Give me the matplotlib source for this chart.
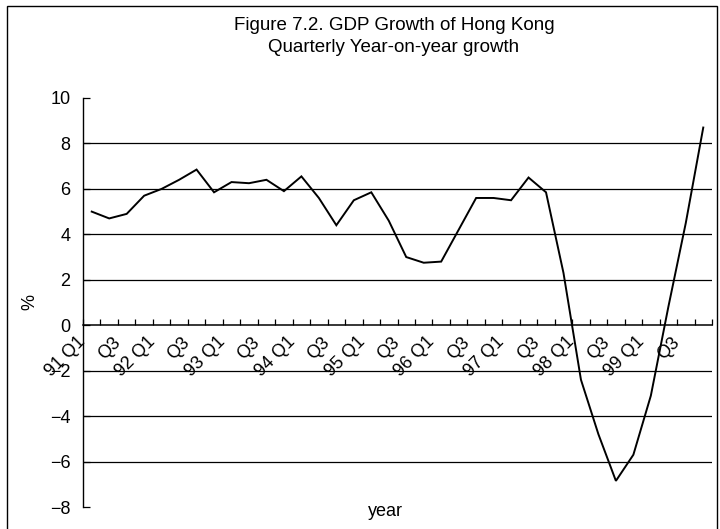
import matplotlib
matplotlib.use("Agg")
import matplotlib.pyplot as plt
import matplotlib.transforms as mtransforms
from matplotlib.patches import Rectangle
import numpy as np

plt.rcParams['font.family'] = ['Liberation Sans', 'DejaVu Sans']

# Data: Hong Kong GDP quarterly year-on-year growth (%), 1991 Q1 - 1999 Q4
quarters = [f"{y} Q{q}" for y in range(91, 100) for q in range(1, 5)]
growth = [5.0, 4.7, 4.9, 5.7,
          6.0, 6.4, 6.85, 5.85,
          6.3, 6.25, 6.4, 5.9,
          6.55, 5.6, 4.4, 5.5,
          5.85, 4.6, 3.0, 2.75,
          2.8, 4.2, 5.6, 5.6,
          5.5, 6.5, 5.85, 2.3,
          -2.4, -4.8, -6.85, -5.7,
          -3.1, 0.8, 4.5, 8.7]
tick_labels = [(q if q.endswith("Q1") else "Q3") for q in quarters[::2]]
yticks = [-8, -6, -4, -2, 0, 2, 4, 6, 8, 10]
gridvals = [-6, -4, -2, 2, 4, 6, 8]

W, H = 720, 529
fig = plt.figure(figsize=(W / 100, H / 100), dpi=100)
ax = fig.add_axes([83 / W, 22 / H, (712 - 83) / W, (507 - 98) / H])

x = np.arange(len(growth))
ax.plot(x, growth, color='black', lw=1.4, zorder=3, solid_joinstyle='miter')

for g in gridvals:
    ax.axhline(g, color='black', lw=0.9, zorder=1)

ax.set_xlim(-0.5, len(growth) - 0.5)
ax.set_ylim(-8, 10)

for s in ['top', 'right']:
    ax.spines[s].set_visible(False)
ax.spines['bottom'].set_position(('data', 0))
ax.spines['bottom'].set_linewidth(1.1)
ax.spines['left'].set_linewidth(1.0)

# major ticks at category boundaries, inward (upward)
ax.set_xticks(np.arange(-0.5, len(growth), 1.0))
ax.set_xticklabels([])
ax.tick_params(axis='x', which='major', direction='in', length=4, width=0.9)
# labels at every other category center
ax.set_xticks(x[::2], minor=True)
ax.set_xticklabels(tick_labels, minor=True, rotation=45, ha='right',
                   rotation_mode='anchor', fontsize=13)
ax.tick_params(axis='x', which='minor', length=0, pad=6)
offset = mtransforms.ScaledTranslation(-15 / 100, 0, fig.dpi_scale_trans)
for lbl in ax.xaxis.get_minorticklabels():
    lbl.set_transform(lbl.get_transform() + offset)

ax.set_yticks(yticks)
ax.set_yticklabels([str(v).replace('-', '\u2212') for v in yticks], fontsize=13)
ax.tick_params(axis='y', direction='in', length=5, width=0.9, pad=9)

ax.set_ylabel('%', fontsize=13, labelpad=8)

fig.text(394 / W, 1 - 25 / H, 'Figure 7.2. GDP Growth of Hong Kong',
         ha='center', va='center', fontsize=13.5)
fig.text(394 / W, 1 - 48 / H, 'Quarterly Year-on-year growth',
         ha='center', va='center', fontsize=13.5)
fig.text(385 / W, 1 - 512 / H, 'year', ha='center', va='center', fontsize=13)

fig.patches.append(Rectangle((7 / W, -0.01), (717 - 7) / W, 1 - 6 / H + 0.01,
                             transform=fig.transFigure, fill=False,
                             edgecolor='black', lw=1.0))

fig.savefig('out.png', dpi=100)
